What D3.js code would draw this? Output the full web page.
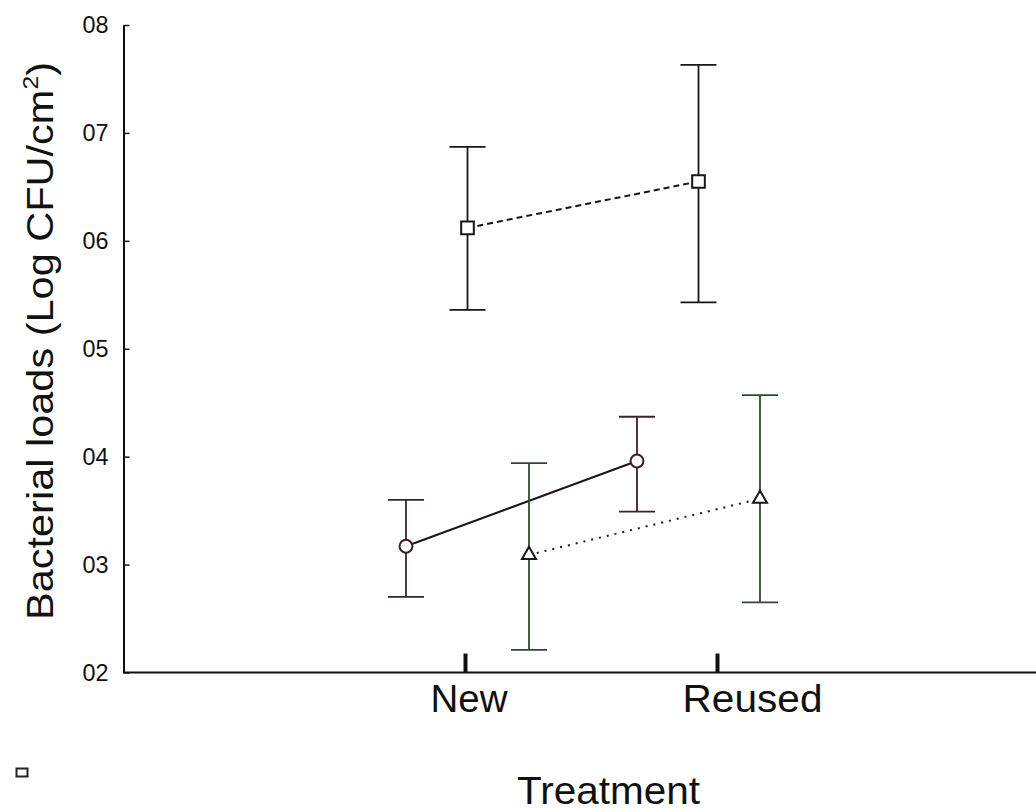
<!DOCTYPE html>
<html>
<head>
<meta charset="utf-8">
<script src="https://cdn.jsdelivr.net/npm/d3@7/dist/d3.min.js"></script>
<style>
  body { margin: 0; background: #fff; }
  svg { display: block; font-family: "Liberation Sans", Arial, sans-serif; }
  .axis path, .axis line { stroke: #111; }
  .axis text { fill: #111; }
</style>
</head>
<body>
<div id="chart"></div>
<script>
const categories = ["New", "Reused"]
const yTicks = [2, 3, 4, 5, 6, 7, 8]
const yTickLabels = ["02", "03", "04", "05", "06", "07", "08"]

// square series (dashed line)
const squareMean = [6.12, 6.55]
const squareLow = [5.36, 5.43]
const squareHigh = [6.87, 7.63]

// circle series (solid line)
const circleMean = [3.17, 3.96]
const circleLow = [2.70, 3.49]
const circleHigh = [3.60, 4.37]

// triangle series (dotted line)
const triMean = [3.09, 3.61]
const triLow = [2.21, 2.65]
const triHigh = [3.94, 4.57]

const W = 1036, H = 812
const axisX = 123.5

const svg = d3.select("#chart").append("svg")
  .attr("width", W)
  .attr("height", H)

const y = d3.scaleLinear()
  .domain([2, 8])
  .range([672.5, 25])

// where the points sit vs where the ticks sit (they don't line up in the original)
const x = d3.scalePoint().domain(categories).range([467, 698])
const xTick = d3.scalePoint().domain(categories).range([465, 717])
const offset = d3.scalePoint().domain(["circle", "square", "triangle"]).range([-61, 62])

const series = [
  { key: "circle", mean: circleMean, low: circleLow, high: circleHigh,
    bar: "#3b2226", line: "#1e1414", dash: null, symbol: d3.symbolCircle, size: 130 },
  { key: "square", mean: squareMean, low: squareLow, high: squareHigh,
    bar: "#161616", line: "#161616", dash: "6,4", symbol: d3.symbolSquare, size: 160 },
  { key: "triangle", mean: triMean, low: triLow, high: triHigh,
    bar: "#2f4a2f", line: "#1a1a1a", dash: "2,6", symbol: d3.symbolTriangle, size: 85 }
]

// Y axis
const yAxis = svg.append("g")
  .attr("class", "axis")
  .attr("transform", "translate(" + axisX + ",0)")
  .call(d3.axisLeft(y)
    .tickValues(yTicks)
    .tickSizeInner(-6)
    .tickSizeOuter(0)
    .tickPadding(15)
    .tickFormat((d, i) => yTickLabels[i]))
yAxis.select(".domain").attr("stroke-width", 2)
yAxis.selectAll(".tick line").attr("stroke-width", 1.5)
yAxis.selectAll("text")
  .attr("font-size", 24)
  .attr("textLength", 26)
  .attr("lengthAdjust", "spacingAndGlyphs")

// X axis baseline across the whole width
svg.append("line")
  .attr("x1", axisX).attr("x2", W)
  .attr("y1", y(2)).attr("y2", y(2))
  .attr("stroke", "#111")
  .attr("stroke-width", 2)

const xAxis = svg.append("g")
  .attr("class", "axis")
  .attr("transform", "translate(0," + y(2) + ")")
  .call(d3.axisBottom(xTick)
    .tickSizeInner(-19)
    .tickSizeOuter(0)
    .tickPadding(13))
xAxis.select(".domain").remove()
xAxis.selectAll(".tick line").attr("stroke-width", 4)
xAxis.selectAll("text")
  .attr("font-size", 38)
  .attr("text-anchor", "start")
  .attr("x", -35)
  .attr("textLength", d => d === "New" ? 77 : 140)
  .attr("lengthAdjust", "spacingAndGlyphs")

// axis titles
const yTitle = svg.append("text")
  .attr("transform", "translate(53,341) rotate(-90)")
  .attr("text-anchor", "middle")
  .attr("font-size", 37)
  .attr("fill", "#111")
  .attr("textLength", 558)
  .attr("lengthAdjust", "spacingAndGlyphs")
yTitle.append("tspan").text("Bacterial loads (Log CFU/cm")
yTitle.append("tspan").attr("font-size", 22).attr("dy", -15).text("2")
yTitle.append("tspan").attr("dy", 15).text(")")

svg.append("text")
  .attr("x", 517)
  .attr("y", 804)
  .attr("font-size", 38)
  .attr("fill", "#111")
  .attr("textLength", 183)
  .attr("lengthAdjust", "spacingAndGlyphs")
  .text("Treatment")

// stray legend box at bottom-left
svg.append("rect")
  .attr("x", 16.5).attr("y", 768.5)
  .attr("width", 11).attr("height", 8)
  .attr("fill", "#fff")
  .attr("stroke", "#222")
  .attr("stroke-width", 2)

const capHalf = 18

series.forEach(s => {
  const px = i => x(categories[i]) + offset(s.key)
  const idx = categories.map((c, i) => i)
  const g = svg.append("g")

  // connecting line
  g.append("path")
    .datum(idx)
    .attr("fill", "none")
    .attr("stroke", s.line)
    .attr("stroke-width", 2)
    .attr("stroke-dasharray", s.dash)
    .attr("d", d3.line().x(i => px(i)).y(i => y(s.mean[i])))

  // error bars
  const eb = g.selectAll(".eb").data(idx).enter().append("g")
    .attr("stroke", s.bar)
    .attr("stroke-width", 1.8)
  eb.append("line")
    .attr("x1", px).attr("x2", px)
    .attr("y1", i => y(s.low[i])).attr("y2", i => y(s.high[i]))
  eb.append("line")
    .attr("x1", i => px(i) - capHalf).attr("x2", i => px(i) + capHalf)
    .attr("y1", i => y(s.high[i])).attr("y2", i => y(s.high[i]))
  eb.append("line")
    .attr("x1", i => px(i) - capHalf).attr("x2", i => px(i) + capHalf)
    .attr("y1", i => y(s.low[i])).attr("y2", i => y(s.low[i]))

  // markers
  g.selectAll(".mk").data(idx).enter().append("path")
    .attr("transform", i => "translate(" + px(i) + "," + y(s.mean[i]) + ")")
    .attr("d", d3.symbol().type(s.symbol).size(s.size))
    .attr("fill", "#fff")
    .attr("stroke", s.key === "circle" ? "#3a1e22" : "#161616")
    .attr("stroke-width", 2)
})
</script>
</body>
</html>
